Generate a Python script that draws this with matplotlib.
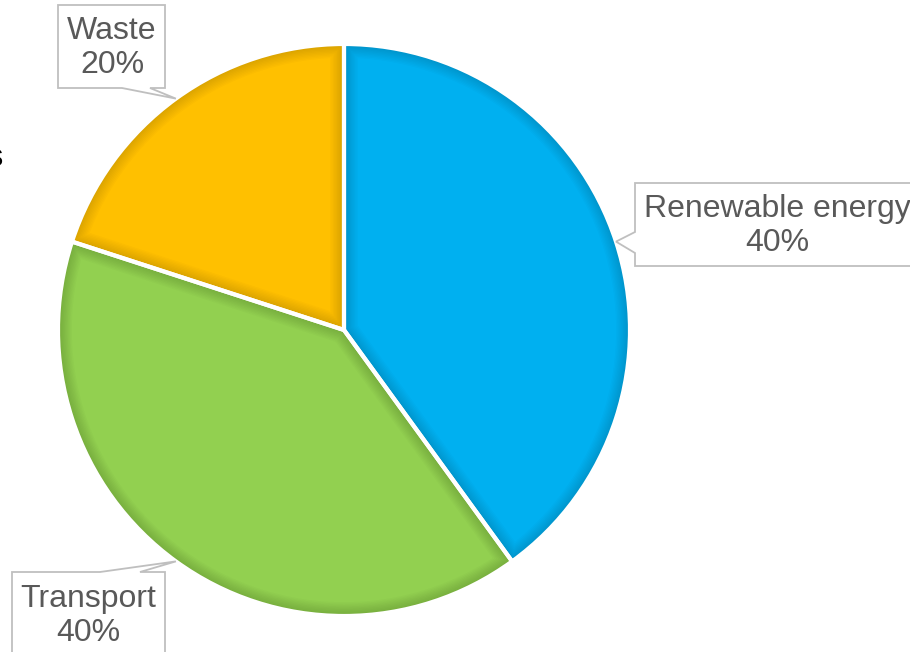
import matplotlib
matplotlib.use("Agg")
import matplotlib.pyplot as plt
from matplotlib.patches import Polygon, Wedge
import numpy as np

# Share of sector
labels = ["Renewable energy", "Transport", "Waste"]
shares = [40, 40, 20]
colors = ["#00B0F0", "#92D050", "#FFC000"]

W, H = 910, 652
fig = plt.figure(figsize=(W / 100, H / 100), dpi=100)
ax = fig.add_axes([0, 0, 1, 1])

cx, cy, r = 344, H - 330, 286
wedges, _ = ax.pie(shares, colors=colors, startangle=90, counterclock=False,
                   center=(cx, cy), radius=r, frame=True,
                   wedgeprops=dict(edgecolor="none", linewidth=0))
ax.set_xlim(0, W)
ax.set_ylim(0, H)
ax.set_aspect("equal")
ax.axis("off")

# soft inner shading along each slice border, then a white outline
for w in wedges:
    for lw in np.arange(20, 3, -2):
        shade = Wedge((cx, cy), r, w.theta1, w.theta2, facecolor="none",
                      edgecolor="black", linewidth=lw, alpha=0.014, zorder=2)
        ax.add_patch(shade)
        shade.set_clip_path(w)
    ax.add_patch(Wedge((cx, cy), r, w.theta1, w.theta2, facecolor="none",
                       edgecolor="white", linewidth=3, zorder=3))

# callout boxes: (left, right, top, bottom) in pixels from top-left, and
# which side the pointer leaves from with its base span
boxes = {
    "Renewable energy": dict(box=(635, 930, 183, 266), side="left", base=(232, 253),
                             text=(777, 226)),
    "Transport": dict(box=(12, 165, 572, 670), side="top", base=(100, 140),
                      text=(88, 616)),
    "Waste": dict(box=(58, 165, 5, 88), side="bottom", base=(122, 150),
                  text=(112, 48)),
}

for w, lab, val in zip(wedges, labels, shares):
    mid = np.deg2rad((w.theta1 + w.theta2) / 2)
    tip = (cx + r * np.cos(mid), cy + r * np.sin(mid))
    b = boxes[lab]
    x0, x1, t, btm = b["box"]
    y_top, y_bot = H - t, H - btm
    b0, b1 = b["base"]
    if b["side"] == "left":
        pts = [(x0, y_top), (x1, y_top), (x1, y_bot), (x0, y_bot),
               (x0, H - b1), tip, (x0, H - b0)]
    elif b["side"] == "top":
        pts = [(x0, y_top), (b0, y_top), tip, (b1, y_top), (x1, y_top),
               (x1, y_bot), (x0, y_bot)]
    else:
        pts = [(x0, y_top), (x1, y_top), (x1, y_bot), (b1, y_bot), tip,
               (b0, y_bot), (x0, y_bot)]
    ax.add_patch(Polygon(pts, closed=True, facecolor="white",
                         edgecolor="#BFBFBF", linewidth=1.3, zorder=5))
    tx, ty = b["text"]
    ax.text(tx, H - ty, f"{lab}\n{val}%", ha="center", va="center",
            fontsize=23, color="#595959", family="Liberation Sans",
            linespacing=1.2, zorder=6)

# clipped fragment of a heading at the left edge
ax.text(2, H - 158, "s", ha="right", va="center", fontsize=22,
        color="black", family="Liberation Sans")

fig.savefig("out.png", dpi=100)
